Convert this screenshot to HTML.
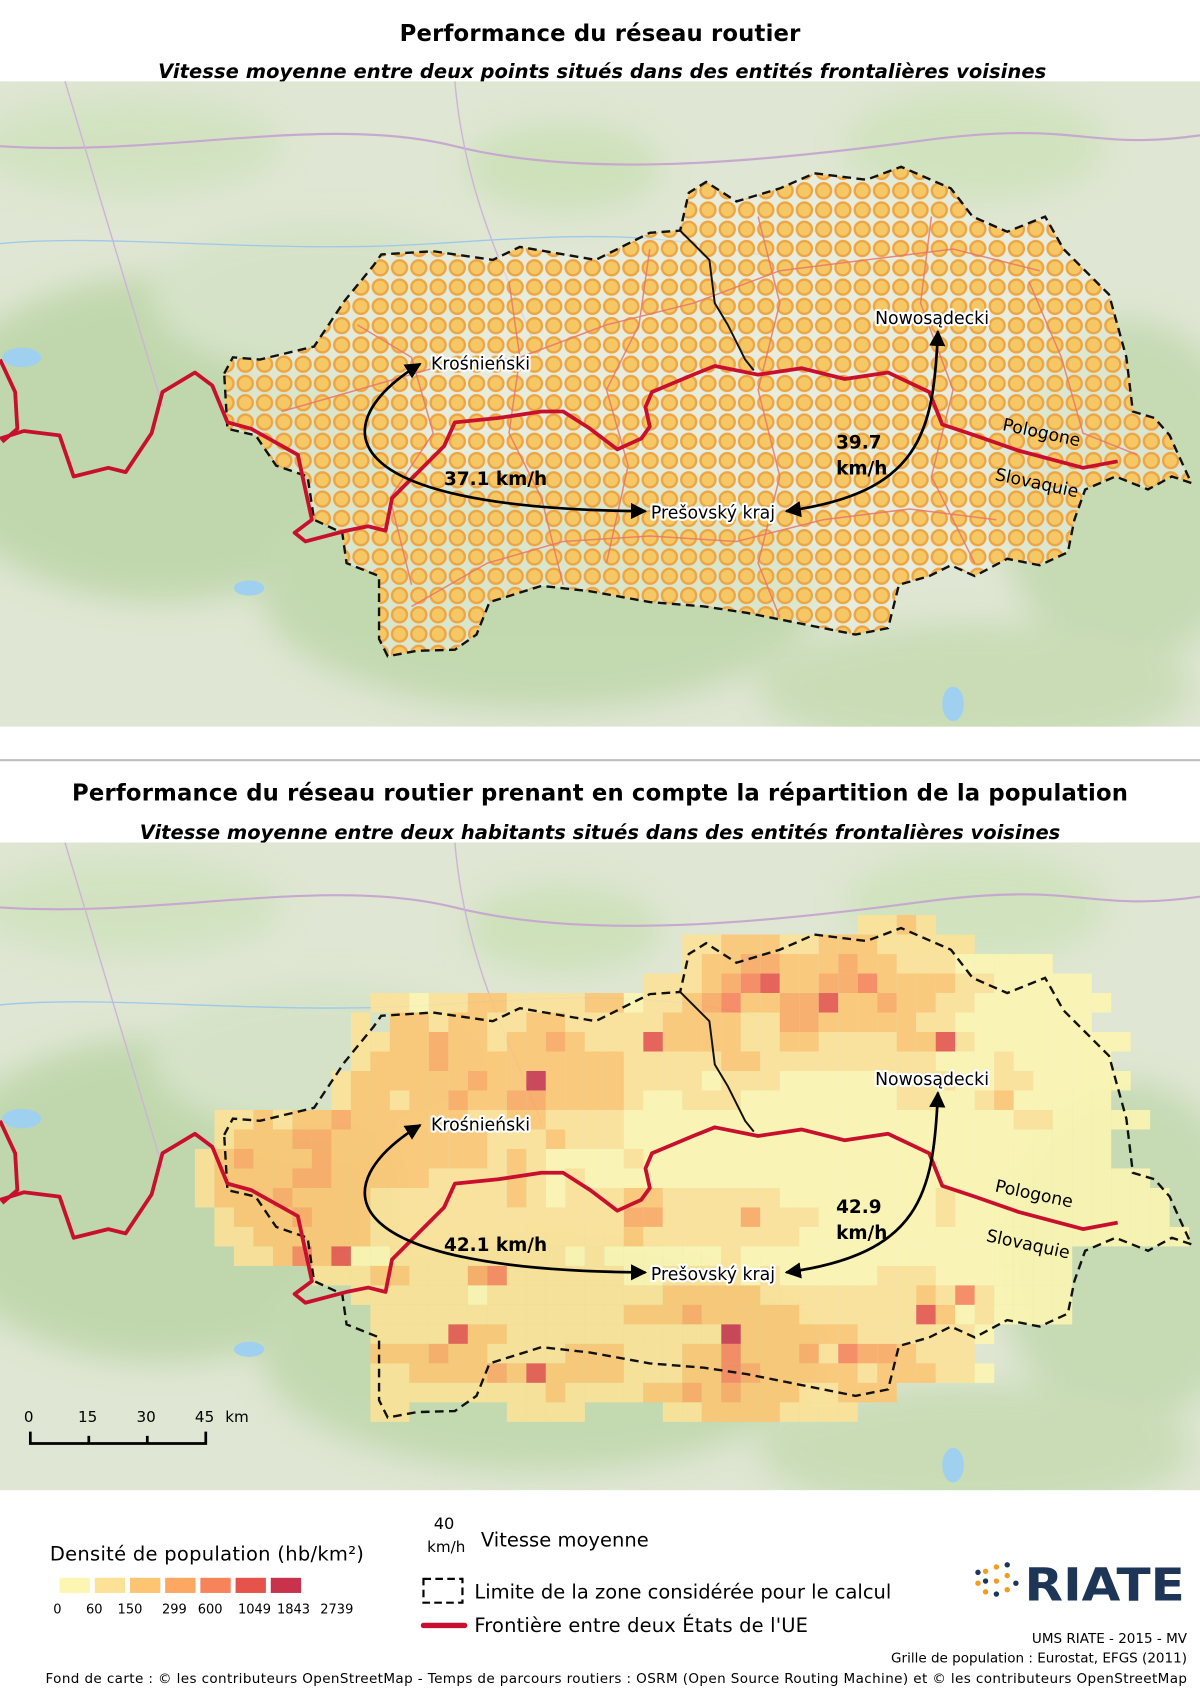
<!DOCTYPE html>
<html><head><meta charset="utf-8"><style>
html,body{margin:0;padding:0;background:#fff;}
svg{display:block;}
text{font-family:"DejaVu Sans","Liberation Sans",sans-serif;}
</style></head><body>
<svg id="page" xmlns="http://www.w3.org/2000/svg" width="1200" height="1698" viewBox="0 0 1108 1568" preserveAspectRatio="none">
<defs>
  <pattern id="dots" patternUnits="userSpaceOnUse" x="4" y="7" width="17.8" height="17.8">
    <circle cx="8.9" cy="8.9" r="6.9" fill="#f6c865" stroke="#eda544" stroke-width="2.2"/>
  </pattern>
  <clipPath id="clip1"><rect x="0" y="75" width="1108" height="596"/></clipPath>
  <clipPath id="clip2"><rect x="0" y="778" width="1108" height="598"/></clipPath>
  <path id="zone" d="M207,345 L215,330 L240,332 L290,320 L318,278 L345,245 L352,235 L400,232 L455,240 L480,228 L550,240 L600,215 L628,213 L636,178 L652,168 L680,186 L720,174 L752,160 L800,166 L832,154 L878,174 L898,200 L930,214 L965,200 L982,230 L1002,250 L1024,272 L1040,330 L1046,380 L1066,386 L1080,402 L1088,420 L1100,446 L1082,440 L1060,452 L1030,440 L1002,452 L992,480 L986,510 L960,522 L930,516 L900,532 L878,522 L858,532 L830,540 L820,580 L790,586 L740,576 L690,566 L650,560 L600,556 L545,546 L500,541 L452,556 L440,586 L420,600 L385,601 L358,606 L350,590 L350,532 L320,520 L316,492 L290,480 L284,440 L255,430 L236,402 L210,396 Z"/>
  <path id="inner" d="M628,213 L655,240 L660,280 L672,300 L688,332 L696,342"/>
  <path id="redline" d="M0,332 L14,362 L16,396 L2,408 M0,405 L22,398 L55,402 L68,440 L100,432 L116,436 L140,400 L150,362 L180,344 L196,356 L210,390 L232,396 L275,420 L288,480 L272,492 L282,500 L320,490 L340,486 L356,490 L362,460 L382,440 L410,412 L420,390 L460,386 L500,380 L520,380 L545,396 L570,415 L592,405 L600,394 L596,376 L602,362 L640,346 L660,338 L700,346 L740,340 L780,350 L820,344 L858,362 L870,392 L900,402 L940,416 L1000,432 L1032,426"/>
  <marker id="ah" viewBox="0 0 10 10" refX="9" refY="5" markerWidth="6" markerHeight="6" orient="auto-start-reverse" markerUnits="strokeWidth"><path d="M0,0 L10,5 L0,10 Z" fill="#000"/></marker>
  <filter id="blur"><feGaussianBlur stdDeviation="14"/></filter>
  <g id="basemap">
    <rect x="0" y="0" width="1108" height="600" fill="#dfe6d3"/>
    <g filter="url(#blur)" opacity="0.8">
      <ellipse cx="120" cy="60" rx="140" ry="45" fill="#cfe2bd"/>
      <ellipse cx="520" cy="80" rx="90" ry="40" fill="#c9e0b5"/>
      <ellipse cx="900" cy="60" rx="120" ry="50" fill="#cde2b9"/>
      <ellipse cx="150" cy="330" rx="220" ry="150" fill="#b9d4a4"/>
      <ellipse cx="500" cy="470" rx="260" ry="110" fill="#bcd6a8"/>
      <ellipse cx="1040" cy="380" rx="120" ry="160" fill="#c0d8ad"/>
      <ellipse cx="900" cy="560" rx="200" ry="60" fill="#c4dab0"/>
      <ellipse cx="300" cy="200" rx="160" ry="70" fill="#d3e2c5"/>
    </g>
    <path d="M0,60 C150,70 300,30 420,60 S700,75 850,55 S1000,65 1108,50" fill="none" stroke="#c7a9cf" stroke-width="2"/>
    <path d="M60,0 C90,100 120,200 150,300 M420,0 C430,120 480,200 500,260" fill="none" stroke="#cfb3d6" stroke-width="1.3"/>
    <path d="M0,150 C100,140 250,160 400,150 S600,140 700,160" fill="none" stroke="#9ec8ea" stroke-width="1.2"/>
    <ellipse cx="20" cy="255" rx="18" ry="9" fill="#9fd0f0"/>
    <ellipse cx="230" cy="468" rx="14" ry="7" fill="#9fd0f0"/>
    <ellipse cx="880" cy="575" rx="10" ry="16" fill="#9fd0f0"/>
  </g>
</defs>

<text x="554" y="38" text-anchor="middle" font-weight="bold" font-size="21" textLength="370">Performance du réseau routier</text>
<text x="556" y="72" text-anchor="middle" font-weight="bold" font-style="italic" font-size="18" textLength="820">Vitesse moyenne entre deux points situés dans des entités frontalières voisines</text>

<g clip-path="url(#clip1)">
  <use href="#basemap" transform="translate(0,75)"/>
  <use href="#zone" fill="#eef0e4" fill-opacity="0.55"/>
  <use href="#zone" fill="url(#dots)"/>
  <g fill="none" stroke="#e8766c" stroke-width="1.4" opacity="0.85">
    <path d="M260,380 L330,360 L400,340 L480,330 L560,300 L640,280 L720,250 L800,240 L880,230 L960,250"/>
    <path d="M380,560 L450,520 L520,500 L600,495 L680,500 L760,480 L840,470 L920,480"/>
    <path d="M470,260 L480,330 L470,400 L500,460 L520,540"/>
    <path d="M700,200 L720,280 L700,360 L720,440 L700,520 L720,570"/>
    <path d="M860,200 L850,280 L880,360 L860,440 L900,520"/>
    <path d="M600,230 L590,300 L560,360 L580,430 L560,520"/>
    <path d="M330,300 L380,330 L400,400 L360,460 L380,540"/>
    <path d="M950,260 L980,330 L1000,400 L1050,420"/>
  </g>
  <use href="#zone" fill="none" stroke="#111" stroke-width="2.2" stroke-dasharray="8,5"/>
  <use href="#inner" fill="none" stroke="#111" stroke-width="1.8"/>
  <use href="#redline" fill="none" stroke="#c8102e" stroke-width="3.5" stroke-linejoin="round"/>
  <path d="M388,336 C300,390 300,470 596,472" fill="none" stroke="#000" stroke-width="2.5" marker-end="url(#ah)" marker-start="url(#ah)"/>
  <path d="M726,472 C850,455 862,400 866,306" fill="none" stroke="#000" stroke-width="2.5" marker-end="url(#ah)" marker-start="url(#ah)"/>
  <g font-size="16" stroke="#fff" stroke-width="4" paint-order="stroke" stroke-linejoin="round">
    <text x="398" y="341">Krośnieński</text>
    <text x="808" y="299">Nowosądecki</text>
    <text x="601" y="479">Prešovský kraj</text>
  </g>
  <g font-size="17" font-weight="bold">
    <text x="410" y="448">37.1 km/h</text>
    <text x="772" y="414">39.7</text>
    <text x="772" y="438">km/h</text>
  </g>
  <text x="925" y="397" font-size="16" transform="rotate(12 925 397)">Pologone</text>
  <text x="918" y="443" font-size="16" transform="rotate(12 918 443)">Slovaquie</text>
</g>

<line x1="0" y1="702" x2="1108" y2="702" stroke="#bdbdbd" stroke-width="2"/>

<text x="554" y="739" text-anchor="middle" font-weight="bold" font-size="21" textLength="975">Performance du réseau routier prenant en compte la répartition de la population</text>
<text x="554" y="775" text-anchor="middle" font-weight="bold" font-style="italic" font-size="18" textLength="850">Vitesse moyenne entre deux habitants situés dans des entités frontalières voisines</text>

<g clip-path="url(#clip2)">
  <use href="#basemap" transform="translate(0,778)"/>
  <g id="heat"></g>
  <g transform="translate(0,703)">
    <use href="#zone" fill="none" stroke="#111" stroke-width="2.2" stroke-dasharray="8,5"/>
    <use href="#inner" fill="none" stroke="#111" stroke-width="1.8"/>
    <use href="#redline" fill="none" stroke="#c8102e" stroke-width="3.5" stroke-linejoin="round"/>
    <path d="M388,336 C300,390 300,470 596,472" fill="none" stroke="#000" stroke-width="2.5" marker-end="url(#ah)" marker-start="url(#ah)"/>
    <path d="M726,472 C850,455 862,400 866,306" fill="none" stroke="#000" stroke-width="2.5" marker-end="url(#ah)" marker-start="url(#ah)"/>
    <g font-size="16" stroke="#fff" stroke-width="4" paint-order="stroke" stroke-linejoin="round">
      <text x="398" y="341">Krośnieński</text>
      <text x="808" y="299">Nowosądecki</text>
      <text x="601" y="479">Prešovský kraj</text>
    </g>
    <g font-size="17" font-weight="bold">
      <text x="410" y="452">42.1 km/h</text>
      <text x="772" y="417">42.9</text>
      <text x="772" y="441">km/h</text>
    </g>
    <text x="918" y="397" font-size="16" transform="rotate(12 918 397)">Pologone</text>
    <text x="910" y="443" font-size="16" transform="rotate(12 910 443)">Slovaquie</text>
  </g>
  <g font-size="14">
    <text x="22" y="1313">0</text><text x="72" y="1313">15</text><text x="126" y="1313">30</text><text x="180" y="1313">45</text><text x="208" y="1313">km</text>
    <path d="M28,1322 V1333 H190 V1322 M82,1326 V1333 M136,1326 V1333" fill="none" stroke="#000" stroke-width="2.5"/>
  </g>
</g>

<text x="46" y="1441" font-size="18" textLength="290">Densité de population (hb/km²)</text>
<g id="legendSw"></g>
<text x="410" y="1412" text-anchor="middle" font-size="15">40</text>
<text x="412" y="1433" text-anchor="middle" font-size="14">km/h</text>
<text x="444" y="1428" font-size="18" textLength="155">Vitesse moyenne</text>
<rect x="391" y="1458" width="36" height="22" fill="none" stroke="#000" stroke-width="2" stroke-dasharray="7,4"/>
<text x="438" y="1476" font-size="18" textLength="385">Limite de la zone considérée pour le calcul</text>
<line x1="391" y1="1501" x2="429" y2="1501" stroke="#c8102e" stroke-width="5" stroke-linecap="round"/>
<text x="438" y="1507" font-size="18" textLength="308">Frontière entre deux États de l'UE</text>

<g>
  <g fill="#f39c1e"><circle cx="903" cy="1462" r="2.5"/><circle cx="910" cy="1451" r="2.5"/><circle cx="910" cy="1470" r="2.5"/><circle cx="920" cy="1447" r="2.5"/><circle cx="920" cy="1460" r="2.5"/><circle cx="930" cy="1455" r="2.5"/><circle cx="930" cy="1468" r="2.5"/></g>
  <g fill="#1d3557"><circle cx="903" cy="1452" r="2.5"/><circle cx="910" cy="1460" r="2.5"/><circle cx="920" cy="1472" r="2.5"/><circle cx="930" cy="1445" r="2.5"/><circle cx="938" cy="1462" r="2.5"/></g>
  <text x="946" y="1478" font-size="42" font-weight="bold" fill="#1d3557" textLength="148" lengthAdjust="spacingAndGlyphs" font-family="Liberation Sans, sans-serif">RIATE</text>
</g>
<g font-size="12.5" text-anchor="end">
  <text x="1096" y="1517">UMS RIATE - 2015 - MV</text>
  <text x="1096" y="1535">Grille de population : Eurostat, EFGS (2011)</text>
  <text x="1096" y="1554" textLength="1054">Fond de carte : © les contributeurs OpenStreetMap - Temps de parcours routiers : OSRM (Open Source Routing Machine) et © les contributeurs OpenStreetMap</text>
</g>

<script>
const heatRows = [
"..................................1121",
".........................112221122211111",
".........................1223322232211100000",
".......................11123452233422221100000",
".........11011221111220112342233522322110000000",
"........1.221221122111112222113322222110000000",
"........1122322122321115222211221111225100000000",
"........122232222222221111122111111111000100000",
".......12222223226222211110111000000111001100000",
".......1221223223322221001110000000011001200000",
".112122322222211221111000000000000000000001100000",
".1222332222222211121110000000000000000000000000",
"12322232222222212100001000000000000000000000000",
"1222233222221111210100000000000000000000000000000",
"12223222211111112101112211111100000000100000000000",
".1222322211111111111113311113111000000100000000000",
".11222222111111111111121111111100000000000000000000",
"..1124250011111111101000000100000000000000000",
"......111221113411111100111101000001110000000",
"........1111110111111111222221111111121410000",
".........111111111111122232222211111152010000",
".........11115221111111111162222221111110",
".........2223221111222111224222314332111",
".........11222232522221112243222221222110",
".........111111111211112232322211222",
".........11.....1111....1122221111"
];
const densityBreaks = ["0","60","150","299","600","1049","1843","2739"];
const levelColors = ["#fdf6b2","#fde196","#fdc571","#fca862","#f7835a","#e5534b","#c8334b"];

const svgNS = "http://www.w3.org/2000/svg";
const x0 = 180, y0 = 845, cell = 18;
function xCol(c){ return x0 + c*cell; }
function yRow(r){ return y0 + r*cell; }
const heat = document.getElementById('heat');
heatRows.forEach((row, r) => {
  for (let c = 0; c < row.length; c++) {
    const ch = row[c];
    if (ch === '.') continue;
    const rect = document.createElementNS(svgNS, 'rect');
    rect.setAttribute('x', xCol(c));
    rect.setAttribute('y', yRow(r));
    rect.setAttribute('width', cell);
    rect.setAttribute('height', cell);
    rect.setAttribute('fill', levelColors[+ch]);
    rect.setAttribute('fill-opacity', '0.88');
    
    
    heat.appendChild(rect);
  }
});
const lg = document.getElementById('legendSw');
levelColors.forEach((col, i) => {
  const rect = document.createElementNS(svgNS, 'rect');
  rect.setAttribute('x', 55 + i*32.5);
  rect.setAttribute('y', 1457);
  rect.setAttribute('width', 28);
  rect.setAttribute('height', 14);
  rect.setAttribute('fill', col);
  
  
  lg.appendChild(rect);
});
const labelX = [53, 87, 120, 161, 194, 235, 271, 311];
densityBreaks.forEach((v, i) => {
  const t = document.createElementNS(svgNS, 'text');
  t.setAttribute('x', labelX[i]);
  t.setAttribute('y', 1490);
  t.setAttribute('font-size', '12');
  t.setAttribute('text-anchor', 'middle');
  t.textContent = v;
  
  
  lg.appendChild(t);
});
</script>
</svg>
</body></html>
